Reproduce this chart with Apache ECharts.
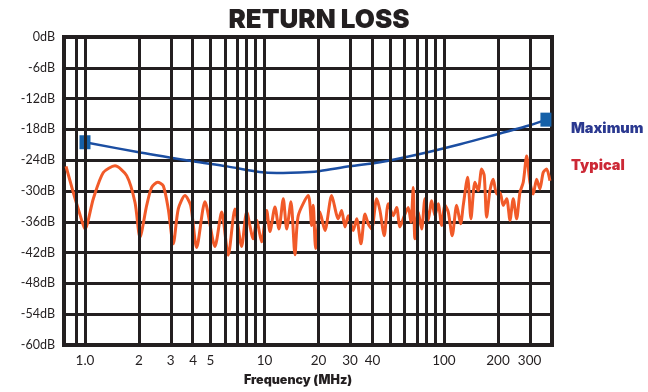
<!DOCTYPE html>
<html><head><meta charset="utf-8">
<script src="https://cdn.jsdelivr.net/npm/echarts@6/dist/echarts.min.js"></script>
<style>html,body{margin:0;padding:0;background:#fff}#c{width:648px;height:392px}</style>
</head><body><div id="c"></div>
<script>
// Frequency axis (MHz)
const freqMin = 0.764;
const freqMax = 400;
const gridFreqs = [0.9, 1, 2, 3, 4, 5, 6, 7, 8, 9, 10, 20, 30, 40, 50, 60, 70, 80, 90, 100, 200, 300];
const tickFreqs = [1, 2, 3, 4, 5, 10, 20, 30, 40, 100, 200, 300];
const tickLabels = ['1.0', '2', '3', '4', '5', '10', '20', '30', '40', '100', '200', '300'];

// Maximum return loss (MHz, dB)
const maxFreq = [1.0, 2.03, 4.0, 6.2, 9.4, 11.7, 17.9, 20.4, 29.9, 44, 73.5, 123, 205, 301, 370];
const maxDb = [-20.5, -22.5, -24.2, -25.2, -26.3, -26.5, -26.3, -26.1, -25.2, -24.4, -22.8, -20.9, -18.8, -17.2, -16.1];

// Typical return loss (MHz, dB)
const typFreq = [0.784, 0.861, 0.938, 1.0, 1.113, 1.265, 1.469, 1.707, 1.899, 2.025, 2.207, 2.353, 2.541, 2.731, 2.911, 3.104, 3.31, 3.607, 3.88, 4.19,
  4.66, 5.30, 5.775, 6.285, 6.85, 7.46, 7.96, 8.66, 9.05, 9.64, 10.29, 10.73, 11.44, 12.04, 12.73, 13.30, 14.05, 14.79, 15.43, 17.54, 18.32, 18.70, 19.29,
  20.38, 21.73, 23.68, 25.77, 26.92, 28.09, 29.30, 31.24, 32.64, 34.49, 36.30, 37.87, 39.56, 42.18, 44.01, 46.50, 48.94, 52.19, 54.52, 56.88, 60.63,
  63.26, 65.50, 67.45, 68.93, 71.92, 75.13, 78.39, 81.77, 85.42, 89.12, 92.95, 97.1, 101.3, 105.7, 111.2, 117.7, 123.9, 128.1, 135.5, 141.4, 148.8,
  155.3, 162.2, 167.7, 172.9, 180.4, 188.2, 196.6, 205.1, 214.0, 223.6, 233.3, 243.3, 254.1, 265.1, 276.6, 288.9, 301.4, 314.4, 328.4, 342.5, 357.3, 373.4, 389.5];
const typDb = [-25.2, -30.3, -34.6, -37.4, -31.5, -26.4, -25.1, -27.0, -32.2, -39.0, -32.8, -29.3, -28.3, -29.0, -33.5, -40.3, -33.5, -30.9, -32.8, -41.0,
  -32.1, -40.8, -34.1, -42.5, -33.5, -40.8, -34.1, -39.3, -35.7, -39.9, -33.8, -37.9, -33.1, -37.4, -31.5, -37.4, -32.1, -42.4, -34.8, -30.9, -36.7, -32.8, -41.2,
  -34.1, -37.7, -30.9, -35.4, -33.8, -37.0, -34.8, -37.7, -35.4, -40.3, -34.5, -36.4, -37.4, -31.5, -33.8, -38.7, -32.5, -34.8, -33.2, -37.0, -34.5,
  -33.2, -36.1, -29.3, -39.3, -34.1, -37.4, -31.5, -35.7, -31.9, -34.8, -32.5, -36.7, -32.8, -34.1, -38.7, -32.8, -36.4, -32.8, -27.3, -35.4, -28.3,
  -29.9, -25.7, -27.0, -35.1, -29.9, -27.7, -30.6, -30.3, -32.8, -31.5, -35.7, -31.5, -35.4, -30.3, -28.3, -23.2, -28.3, -30.6, -27.7, -29.6, -26.4, -25.7, -28.0];

const dbTicks = { min: -60, max: 0, interval: 6 };

const L = Math.log10;
const ink = '#231f20';
const font = 'Lato, "Noto Sans", sans-serif';

const maxData = maxFreq.map((f, i) => {
  const item = { value: [L(f), maxDb[i]] };
  if (i === 0 || i === maxFreq.length - 1) { item.symbol = 'rect'; item.symbolSize = [11, 14]; }
  return item;
});
const typData = typFreq.map((f, i) => [L(f), typDb[i]]);
const tickVals = tickFreqs.map(L);

const chart = echarts.init(document.getElementById('c'), null, { renderer: 'canvas' });
chart.setOption({
  animation: false,
  backgroundColor: '#fff',
  title: {
    text: 'RETURN LOSS', left: 314, top: 2, textAlign: 'center',
    textStyle: { fontFamily: 'Inter, Roboto, sans-serif', fontWeight: 900, fontSize: 26, color: ink }
  },
  legend: {
    orient: 'vertical', left: 561, top: 116, itemGap: 22, itemWidth: 0, itemHeight: 15, icon: 'none',
    selectedMode: false,
    textStyle: { fontFamily: 'Inter, Roboto, sans-serif', fontWeight: 900, fontSize: 14.5 },
    data: [
      { name: 'Maximum', textStyle: { color: '#2b3990' } },
      { name: 'Typical', textStyle: { color: '#cc2936' } }
    ]
  },
  grid: { left: 64, right: 96, top: 37, bottom: 45, show: true, borderColor: ink, borderWidth: 4, backgroundColor: 'transparent' },
  xAxis: {
    type: 'value', min: L(freqMin), max: L(freqMax),
    name: 'Frequency (MHz)', nameLocation: 'middle', nameGap: 29,
    nameTextStyle: { fontFamily: 'Inter, Roboto, sans-serif', fontWeight: 900, fontSize: 12.5, color: ink, padding: [0, 20, 0, 0] },
    axisLine: { show: false }, axisTick: { show: false }, splitLine: { show: false },
    axisLabel: {
      customValues: tickVals, margin: 9, fontFamily: font, fontSize: 13.5, color: ink,
      formatter: v => {
        let best = 0, d = 1e9;
        tickVals.forEach((t, i) => { const dd = Math.abs(t - v); if (dd < d) { d = dd; best = i; } });
        return tickLabels[best];
      }
    }
  },
  yAxis: {
    type: 'value', min: dbTicks.min, max: dbTicks.max, interval: dbTicks.interval,
    axisLine: { show: false }, axisTick: { show: false },
    splitLine: { show: true, lineStyle: { color: ink, width: 3 } },
    axisLabel: { formatter: '{value}dB', margin: 9, fontFamily: font, fontSize: 12.5, color: ink }
  },
  series: [
    {
      name: 'grid', type: 'line', data: [], z: 1, silent: true,
      markLine: {
        silent: true, symbol: ['none', 'none'], label: { show: false }, animation: false,
        lineStyle: { color: ink, width: 3, type: 'solid' },
        data: gridFreqs.map(f => ({ xAxis: L(f) }))
      }
    },
    {
      name: 'Maximum', type: 'line', data: maxData, z: 4, smooth: 0.3,
      symbol: 'none', showAllSymbol: true,
      lineStyle: { color: '#1b4ea2', width: 2.5 }, itemStyle: { color: '#1560a8' }
    },
    {
      name: 'Typical', type: 'line', data: typData, z: 3, smooth: 0.25,
      symbol: 'none',
      lineStyle: { color: '#f15a29', width: 3 }, itemStyle: { color: '#f15a29' }
    }
  ]
});
</script></body></html>
